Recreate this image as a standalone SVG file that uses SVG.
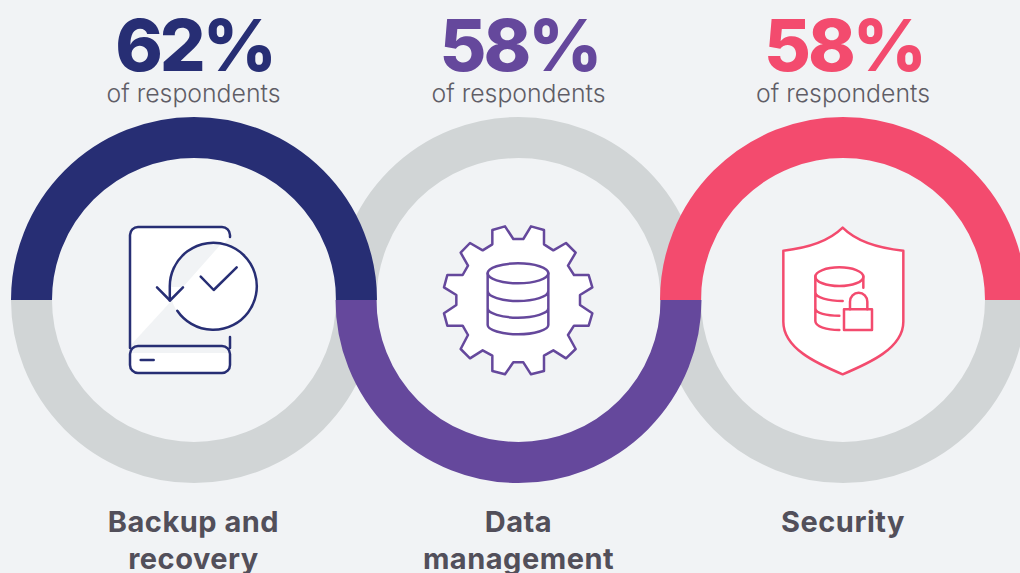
<svg xmlns="http://www.w3.org/2000/svg" width="1020" height="573" viewBox="0 0 1020 573">
<style>
text{text-anchor:middle;font-family:"Inter","Liberation Sans",sans-serif}
.pct{font-size:72px;font-weight:800;letter-spacing:-3px}
.sub{font-size:24.800px;font-weight:300;fill:#5f5d66}
.lab{font-size:29px;font-weight:700;fill:#524f5a;letter-spacing:.5px}
.ring{fill:none;stroke-width:41}
.grey{stroke:#d1d5d6}
.ic{stroke-width:2.5;stroke-linecap:round;stroke-linejoin:round;fill:none}
.z{stroke-width:7.5;stroke-linecap:round;stroke-linejoin:round;fill:none}
</style>
<defs><clipPath id="cc"><circle cx="213.3" cy="287" r="43.5"/></clipPath></defs>
<rect width="1020" height="573" fill="#f1f3f5"/>
<g id="connectors">
<path class="ring grey" d="M31.5 300A162.5 162.5 0 0 0 356.500 300"/>
<path class="ring grey" d="M356 300A162.500 162.500 0 0 1 681 300"/>
<path class="ring grey" d="M680.500 300A162.500 162.500 0 0 0 1005.500 300"/>
<path class="ring" stroke="#272e74" d="M31.500 300A162.500 162.500 0 0 1 356.500 300"/>
<path class="ring" stroke="#65489c" d="M356 300A162.500 162.500 0 0 0 681 300"/>
<path class="ring" stroke="#f34b6e" d="M680.500 300A162.500 162.500 0 0 1 1005.500 300"/>
</g>
<g id="backup">
<text class="pct" x="194.500" y="71" fill="#272e74">62%</text>
<text class="sub" x="193.500" y="102">of respondents</text>
<path fill="#fff" d="M130 346V235a8 8 0 0 1 8-8h84a8 8 0 0 1 8 8v2z"/>
<circle cx="213.300" cy="287" r="43.500" fill="#fff"/>
<path fill="#f1f3f5" clip-path="url(#cc)" d="M165 287H183L222 243L210 236H165z"/>
<path fill="#fff" d="M130 353H230V365a8 8 0 0 1-8 8H138a8 8 0 0 1-8-8z"/>
<g class="ic" stroke="#272e74">
<path d="M230 237V235a8 8 0 0 0-8-8H138a8 8 0 0 0-8 8V348"/>
<path d="M230 337V348"/>
<rect x="130" y="346" width="100" height="27" rx="8"/>
<path d="M140.700 360H153.700"/>
<path d="M177.300 310.700A43.500 43.500 0 1 0 169.800 287V300.500"/>
<path d="M157 287.300L170 300.500L183 287.300"/>
<path d="M200.700 276.700L213.700 290L236.700 267.300"/>
</g>
<text class="lab"><tspan x="193.500" y="532">Backup and</tspan><tspan x="193.500" y="569">recovery</tspan></text>
</g>
<g id="data">
<text class="pct" x="519.500" y="71" fill="#65489c">58%</text>
<text class="sub" x="518.500" y="102">of respondents</text>
<g transform="translate(430 215) scale(.33333)" stroke="#65489c">
<path class="z" style="fill:#fff" d="M187 45L225 34L250 72H280L303 34L342 45V88L370 106L408 84L437 113L414 152L432 180H476L487 217L450 240V270L487 295L476 332H432L414 360L437 402L408 430L370 406L342 422V468L303 478L280 442H250L225 478L187 468V422L158 406L120 430L92 402L114 360L98 332H52L42 295L79 270V240L42 217L52 180H98L114 152L92 113L120 84L158 106L187 88z"/>
<ellipse class="z" cx="264" cy="175" rx="91" ry="30"/>
<path class="z" d="M173 175V330C173 345 215 358 264 358S355 345 355 330V175M173 228C173 245 215 258 264 258S355 245 355 228M173 280C173 295 215 308 264 308S355 295 355 280"/>
</g>
<text class="lab"><tspan x="518.500" y="532">Data</tspan><tspan x="518.500" y="569">management</tspan></text>
</g>
<g id="security">
<text class="pct" x="844" y="71" fill="#f34b6e">58%</text>
<text class="sub" x="843" y="102">of respondents</text>
<g transform="translate(770 215) scale(.33333)" stroke="#f34b6e">
<path class="z" style="fill:#fff" d="M218 38C175 80 105 100 40 107V320C40 400 140 445 218 478C296 445 400 400 400 320V107C330 100 260 80 218 38z"/>
<ellipse class="z" cx="208" cy="185" rx="72" ry="28"/>
<path class="z" d="M280 185V218M136 185V318C136 335 170 345 208 345M136 232C136 248 175 258 218 258M136 280C136 295 170 302 208 302"/>
<rect class="z" x="222" y="283" width="84" height="62"/>
<path class="z" d="M240 283V260A26 27 0 0 1 292 260V283"/>
</g>
<text class="lab" x="843" y="532">Security</text>
</g>
</svg>
